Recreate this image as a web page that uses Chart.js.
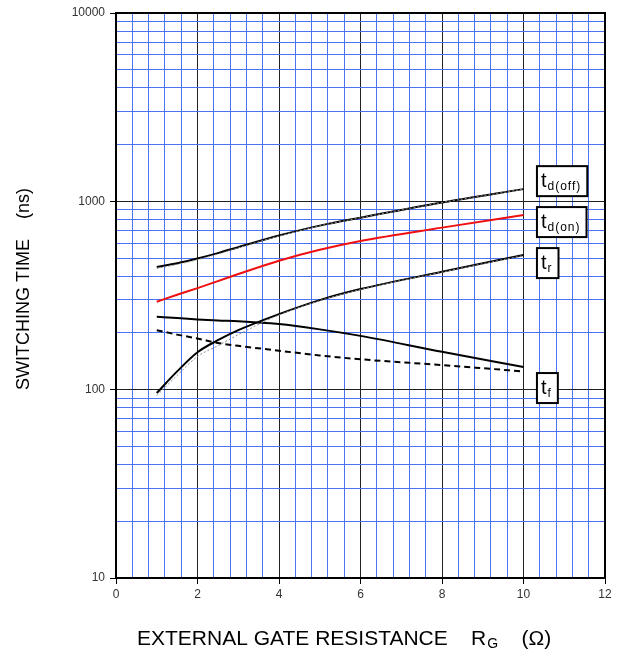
<!DOCTYPE html>
<html>
<head>
<meta charset="utf-8">
<script src="https://cdn.jsdelivr.net/npm/chart.js@4"></script>
<style>
  html, body { margin: 0; padding: 0; background: #fff; }
  canvas { display: block; }
</style>
</head>
<body>
<canvas id="chart" width="625" height="651"></canvas>
<script>
// Switching time vs external gate resistance (log y)

const rg        = [1, 1.5, 2, 2.5, 3, 4, 5, 6, 8, 10];
const tdOff     = [448, 469, 497, 531, 571, 658, 743, 819, 985, 1161];
const tdOffTyp  = [441, 462, 490, 525, 566, 655, 741, 818, 985, 1161];
const tdOn      = [293, 319, 346, 377, 411, 484, 553, 616, 725, 845];
const tr        = [96, 125, 158, 183, 207, 252, 299, 342, 423, 519];
const trTyp     = [93, 119, 150, 171, 196, 249, 297, 340, 421, 516];
const tfSolid   = [244, 240, 236, 233, 231, 223, 209, 193, 159, 132];
const tfDashed  = [207, 196, 187, 177, 171, 161, 152, 145, 135, 125];

const yDecades  = [10, 100, 1000, 10000];
const yMinorMul = [2, 3, 4, 5, 6, 7, 8, 9];
const xMajor    = [0, 2, 4, 6, 8, 10, 12];

// curve labels: [main, subscript, x, y]
const curveLabels = [
  ['t', 'd(off)', 10.33, 1280],
  ['t', 'd(on)',  10.33, 776],
  ['t', 'r',      10.33, 470],
  ['t', 'f',      10.33, 102],
];

const BLUE = '#4a72f2';
const FONT = '"Liberation Sans", Arial, sans-serif';

const pts = ys => rg.map((x, i) => ({ x, y: ys[i] }));
const isDecade = v => Math.abs(Math.log10(v) - Math.round(Math.log10(v))) < 1e-9;
const isMajorX = v => xMajor.some(m => Math.abs(m - v) < 1e-6);

const line = (data, color, extra = {}) => Object.assign({
  data: pts(data),
  borderColor: color,
  borderWidth: 2,
  pointRadius: 0,
  fill: false,
  cubicInterpolationMode: 'monotone',
}, extra);

// Frame, axis titles and boxed curve labels
const decorPlugin = {
  id: 'decor',
  afterDraw(chart) {
    const { ctx, chartArea: a, scales } = chart;
    ctx.save();

    ctx.strokeStyle = '#000';
    ctx.lineWidth = 2;
    ctx.strokeRect(a.left, a.top, a.right - a.left, a.bottom - a.top);

    // boxed labels
    curveLabels.forEach(([main, sub, xv, yv]) => {
      const px = scales.x.getPixelForValue(xv);
      const cy = scales.y.getPixelForValue(yv);
      ctx.font = `20px ${FONT}`;
      const wMain = ctx.measureText(main).width;
      ctx.font = `12px ${FONT}`;
      ctx.letterSpacing = '1px';
      const wSub = ctx.measureText(sub).width;
      const w = 4 + wMain + 1 + wSub + 6;
      const h = 30;
      ctx.fillStyle = '#fff';
      ctx.fillRect(px, cy - h / 2, w, h);
      ctx.lineWidth = 2;
      ctx.strokeStyle = '#000';
      ctx.strokeRect(px, cy - h / 2, w, h);
      ctx.fillStyle = '#000';
      ctx.textBaseline = 'alphabetic';
      ctx.textAlign = 'left';
      ctx.letterSpacing = '0px';
      ctx.font = `20px ${FONT}`;
      ctx.fillText(main, px + 4, cy + 6);
      ctx.letterSpacing = '1px';
      ctx.font = `12px ${FONT}`;
      ctx.fillText(sub, px + 4 + wMain + 1, cy + 9);
      ctx.letterSpacing = '0px';
    });

    // x title with subscript
    ctx.fillStyle = '#000';
    ctx.textAlign = 'left';
    ctx.textBaseline = 'alphabetic';
    let x = 137;
    const base = 645;
    ctx.font = `21px ${FONT}`;
    const t1 = 'EXTERNAL GATE RESISTANCE    R';
    ctx.fillText(t1, x, base);
    x += ctx.measureText(t1).width;
    ctx.font = `14px ${FONT}`;
    ctx.fillText('G', x + 1, base + 3);
    x += ctx.measureText('G').width + 1;
    ctx.font = `21px ${FONT}`;
    ctx.fillText('    (Ω)', x, base);

    // y title
    ctx.translate(24, 289);
    ctx.rotate(-Math.PI / 2);
    ctx.textAlign = 'center';
    ctx.textBaseline = 'middle';
    ctx.font = `18px ${FONT}`;
    ctx.fillText('SWITCHING TIME    (ns)', 0, 0);

    ctx.restore();
  },
};

new Chart(document.getElementById('chart'), {
  type: 'line',
  data: {
    datasets: [
      line(trTyp, '#8a8a8a', { borderWidth: 1, borderDash: [2, 2] }),
      line(tdOffTyp, '#8a8a8a', { borderWidth: 1, borderDash: [2, 2] }),
      line(tdOff, '#000'),
      line(tdOn, '#f01010'),
      line(tr, '#000'),
      line(tfSolid, '#000'),
      line(tfDashed, '#000', { borderDash: [6, 4] }),
    ],
  },
  options: {
    responsive: false,
    animation: false,
    layout: { padding: { top: 13, right: 20, left: 0, bottom: 0 } },
    plugins: {
      legend: { display: false },
      tooltip: { enabled: false },
    },
    scales: {
      x: {
        type: 'linear',
        min: 0,
        max: 12,
        afterFit: s => { s.height = 73; },
        ticks: {
          stepSize: 0.4,
          autoSkip: false,
          maxRotation: 0,
          padding: 3,
          color: '#333',
          font: { family: FONT, size: 12 },
          // '' keeps the minor grid line, null would hide it
          callback: v => (isMajorX(v) ? String(Math.round(v)) : ''),
        },
        grid: {
          color: c => (isMajorX(c.tick.value) ? '#222' : BLUE),
          lineWidth: 1,
          tickLength: 6,
          tickColor: c => (c.tick && isMajorX(c.tick.value) ? '#000' : 'rgba(0,0,0,0)'),
        },
        border: { color: '#000', width: 2 },
      },
      y: {
        type: 'logarithmic',
        min: 10,
        max: 10000,
        afterFit: s => { s.width = 116; },
        afterBuildTicks: s => {
          const ticks = [];
          yDecades.forEach((d, i) => {
            ticks.push({ value: d });
            if (i < yDecades.length - 1) yMinorMul.forEach(m => ticks.push({ value: d * m }));
          });
          s.ticks = ticks;
        },
        ticks: {
          autoSkip: false,
          padding: 5,
          color: '#333',
          font: { family: FONT, size: 12 },
          callback: v => (isDecade(v) ? String(v) : ''),
        },
        grid: {
          color: c => (isDecade(c.tick.value) ? '#222' : BLUE),
          lineWidth: 1,
          tickLength: 6,
          tickColor: c => (c.tick && isDecade(c.tick.value) ? '#000' : 'rgba(0,0,0,0)'),
        },
        border: { color: '#000', width: 2 },
      },
    },
  },
  plugins: [decorPlugin],
});
</script>
</body>
</html>
